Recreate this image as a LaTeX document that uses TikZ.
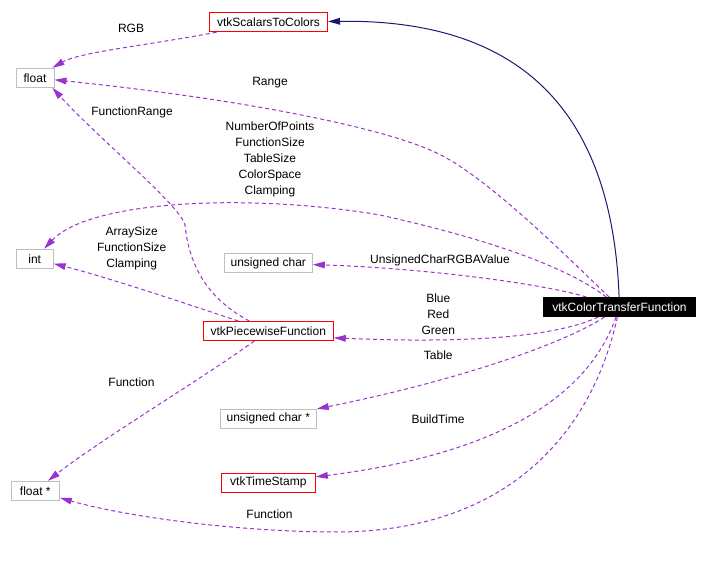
\documentclass[tikz,border=0pt]{standalone}
\usepackage{fontspec}
\setmainfont{Liberation Sans}
\usetikzlibrary{arrows.meta}
\definecolor{usecol}{RGB}{154,50,205}
\definecolor{navycol}{RGB}{25,25,112}
\definecolor{greybox}{RGB}{191,191,191}

\begin{document}
\begin{tikzpicture}[x=0.75pt,y=-0.75pt,font=\fontsize{9}{12}\selectfont]
    \tikzstyle{plain}=[rectangle,draw=greybox,line width=0.75pt,minimum height=14.25pt,inner xsep=2pt,inner ysep=0pt]
    \tikzstyle{klass}=[plain,draw=red]
    \tikzstyle{usage}=[draw=usecol,line width=0.75pt,dash pattern=on 3pt off 2.25pt,-{Triangle[length=9pt,width=5pt,fill=usecol]}]
    \tikzstyle{inherit}=[draw=navycol,line width=0.75pt,-{Triangle[length=9pt,width=5pt,fill=navycol]}]
    \tikzstyle{lbl}=[align=center,inner sep=0pt]
    \useasboundingbox (0,0) rectangle (709,570);

    % member types
    \foreach \nm/\x/\y/\w/\txt in {flt/35/77.8/38/float, int/34.7/258.8/37/int,
            uchr/268.3/263.2/88/unsigned char, uchrp/268.3/418.7/96/unsigned char *,
            fltp/35.3/490.8/48/float *}
        \node[plain,minimum width=\w*0.75pt] (\nm) at (\x,\y) {\txt};

    % classes
    \foreach \nm/\x/\y/\w/\txt in {scal/268.5/22.2/118/vtkScalarsToColors,
            pwf/268.3/331/130/vtkPiecewiseFunction, tstamp/268.3/482.8/94/vtkTimeStamp}
        \node[klass,minimum width=\w*0.75pt] (\nm) at (\x,\y) {\txt};

    \node[plain,draw=black,fill=black,text=white,minimum width=114pt] (ctf) at (619.5,307) {vtkColorTransferFunction};

    % inheritance
    \draw[inherit] (ctf) .. controls (612,110) and (520,19) .. (scal);

    % usage
    \draw[usage] (scal) .. controls (150,45) and (80,52) .. (flt);
    \draw[usage] (ctf) .. controls (560,250) and (480,170) .. (430,150)
        .. controls (380,128) and (250,100) .. (flt);
    \draw[usage] (pwf) .. controls (200,295) and (188,255) .. (185,225)
        .. controls (180,205) and (100,140) .. (flt.-30);
    \draw[usage] (ctf) .. controls (560,262) and (470,235) .. (380,215)
        .. controls (250,193) and (90,200) .. (int);
    \draw[usage] (ctf) .. controls (540,283) and (420,268) .. (uchr);
    \draw[usage] (pwf) .. controls (190,305) and (110,278) .. (int);
    \draw[usage] (ctf) .. controls (560,335) and (480,344) .. (pwf.-6);
    \draw[usage] (ctf) .. controls (570,340) and (470,378) .. (uchrp);
    \draw[usage] (ctf) .. controls (580,420) and (450,460) .. (tstamp);
    \draw[usage] (ctf) .. controls (595,420) and (520,530) .. (340,532)
        .. controls (230,532) and (120,515) .. (fltp);
    \draw[usage] (pwf) .. controls (200,380) and (100,440) .. (fltp);

    % labels
    \node[lbl] (l-rgb) at (131,28) {RGB};
    \node[lbl] (l-range) at (270,83) {Range};
    \node[lbl] (l-frange) at (132,112) {FunctionRange};
    \node[lbl] (l-npts) at (270,159.5) {NumberOfPoints\\FunctionSize\\TableSize\\ColorSpace\\Clamping};
    \node[lbl] (l-asize) at (131.7,248.3) {ArraySize\\FunctionSize\\Clamping};
    \node[lbl] (l-rgba) at (440,260) {UnsignedCharRGBAValue};
    \node[lbl] (l-brg) at (438.3,314.6) {Blue\\Red\\Green};
    \node[lbl] (l-table) at (438.3,355.7) {Table};
    \node[lbl] (l-func) at (131.5,382.7) {Function};
    \node[lbl] (l-btime) at (438,419) {BuildTime};
    \node[lbl] (l-func2) at (269.5,514.3) {Function};
\end{tikzpicture}
\end{document}
